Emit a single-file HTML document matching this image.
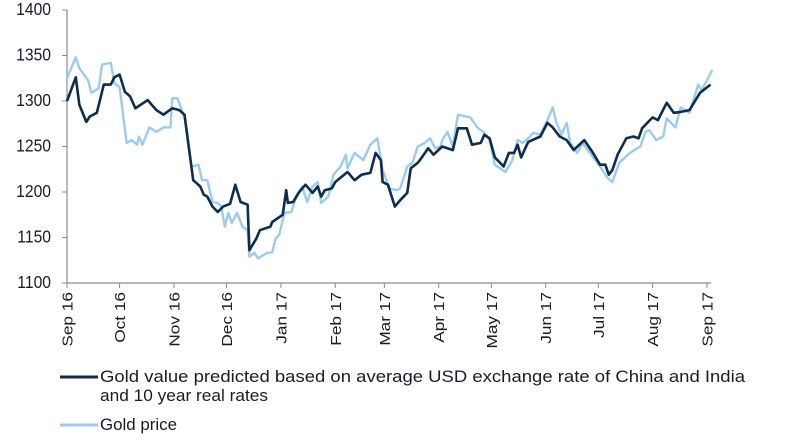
<!DOCTYPE html>
<html><head><meta charset="utf-8"><style>
body{margin:0;background:#fff;width:800px;height:441px;overflow:hidden;font-family:"Liberation Sans",sans-serif;}
svg text{font-family:"Liberation Sans",sans-serif;fill:#1a1a2a;}
</style></head><body>
<svg width="800" height="441">
<g id="axes"></g>
<g id="series"></g>
<g>
<line x1="60" y1="377" x2="98" y2="377" stroke="#0d2d4f" stroke-width="3"/>
<text x="100" y="382" font-size="17" textLength="645" lengthAdjust="spacingAndGlyphs">Gold value predicted based on average USD exchange rate of China and India</text>
<text x="100" y="401" font-size="17" textLength="168" lengthAdjust="spacingAndGlyphs">and 10 year real rates</text>
<line x1="60" y1="425" x2="98" y2="425" stroke="#9ccbee" stroke-width="3"/>
<text x="100" y="430" font-size="17" textLength="77" lengthAdjust="spacingAndGlyphs">Gold price</text>
</g>
</svg>
<script>
const yTicks=[1100,1150,1200,1250,1300,1350,1400];
const monthDays=[0,30,61,91,122,153,181,212,242,273,303,334,365];
const monthLabels=["Sep 16","Oct 16","Nov 16","Dec 16","Jan 17","Feb 17","Mar 17","Apr 17","May 17","Jun 17","Jul 17","Aug 17","Sep 17"];
const predDays=[0,5,7,11,13,17,21,25,27,30,33,36,39,46,51,55,60,64,67,72,76,78,80,83,86,89,93,96,99,103,104,108,110,116,117,123,125,126,129,132,136,140,143,145,147,151,153,160,164,168,173,176,179,180,183,187,190,194,196,200,202,206,209,214,220,223,228,231,236,238,241,244,249,252,255,257,259,263,270,274,277,281,285,289,295,300,304,307,309,311,314,319,323,326,328,334,337,342,346,350,355,361,367];
const predVals=[1300,1326,1296,1277,1283,1287,1318,1318,1326,1329,1310,1305,1292,1301,1290,1285,1292,1290,1285,1213,1206,1197,1195,1184,1178,1184,1187,1208,1189,1186,1136,1149,1158,1162,1167,1175,1202,1188,1189,1199,1208,1199,1206,1195,1202,1204,1211,1222,1213,1219,1221,1243,1235,1211,1208,1184,1191,1199,1226,1232,1237,1248,1241,1250,1246,1270,1270,1252,1254,1263,1259,1238,1228,1243,1243,1252,1238,1255,1261,1276,1271,1261,1257,1246,1257,1243,1230,1230,1219,1224,1241,1259,1261,1259,1270,1282,1279,1298,1287,1288,1290,1309,1318];
const goldDays=[0,5,7,12,14,18,20,25,27,30,34,37,40,41,43,47,51,55,59,60,63,67,71,75,77,80,83,86,88,90,92,94,97,100,103,104,107,109,114,117,119,121,124,128,130,134,137,140,143,145,149,152,156,159,160,164,169,173,177,180,184,188,190,194,197,200,204,207,210,213,214,217,220,223,230,234,238,241,244,250,254,257,260,263,266,270,274,277,279,282,285,287,291,294,299,304,308,311,315,321,327,330,332,336,340,342,347,350,355,360,362,368];
const goldVals=[1325,1348,1336,1323,1309,1314,1340,1342,1320,1315,1254,1257,1252,1261,1252,1271,1266,1271,1271,1303,1303,1282,1228,1230,1213,1213,1189,1188,1184,1162,1177,1166,1177,1162,1158,1129,1133,1127,1133,1134,1149,1153,1177,1178,1191,1206,1189,1206,1211,1188,1195,1219,1228,1241,1226,1243,1235,1252,1259,1224,1204,1202,1204,1228,1232,1250,1254,1259,1248,1250,1257,1266,1250,1285,1282,1271,1265,1257,1230,1222,1235,1257,1254,1259,1265,1263,1279,1293,1277,1263,1276,1254,1243,1254,1241,1228,1216,1211,1232,1243,1250,1266,1268,1257,1261,1281,1271,1293,1287,1318,1312,1334];

const NS="http://www.w3.org/2000/svg";
const X0=67,X1=707,Y0=283,Y1=10;
function xs(d){return X0+(d-0)/(365-0)*(X1-X0);}
function ys(v){return Y0-(v-1100)/(1400-1100)*(Y0-Y1);}
function mk(tag,attrs,parent){const e=document.createElementNS(NS,tag);for(const k in attrs)e.setAttribute(k,attrs[k]);parent.appendChild(e);return e;}
const axes=document.getElementById('axes');
const ya=mk('line',{x1:X0,y1:Y1,x2:X0,y2:Y0,stroke:'#8c8c8c','stroke-width':1.2},axes);


const xa=mk('line',{x1:X0,y1:Y0,x2:711,y2:Y0,stroke:'#8c8c8c','stroke-width':1.2},axes);


yTicks.forEach(v=>{
  const y=ys(v);
  const t=mk('line',{x1:X0-5,y1:y,x2:X0,y2:y,stroke:'#8c8c8c'},axes);
  
  
  const tx=mk('text',{x:0,y:0,'font-size':16,'text-anchor':'end',transform:`translate(${X0-16},${y+5}) scale(0.98,1.12)`},axes);
  
  
  tx.textContent=v;
});
monthDays.forEach((d,i)=>{
  const x=xs(d);
  const t=mk('line',{x1:x,y1:Y0,x2:x,y2:Y0+5,stroke:'#8c8c8c'},axes);
  
  
  const tx=mk('text',{x:0,y:0,'font-size':15,'text-anchor':'end',transform:`translate(${x+5.5},292) rotate(-90) scale(1.15,1)`},axes);
  
  
  tx.textContent=monthLabels[i];
});
const ser=document.getElementById('series');
function line(days,vals,color,w,name){
  const p=days.map((d,i)=>xs(d).toFixed(1)+','+ys(vals[i]).toFixed(1)).join(' ');
  const pl=mk('polyline',{points:p,fill:'none',stroke:color,'stroke-width':w,'stroke-linejoin':'round'},ser);
  
  
}
line(goldDays,goldVals,'#9ccbee',2.4,'gold-price-line');
line(predDays,predVals,'#0d2d4f',2.6,'predicted-gold-value-line');
</script>
</body></html>
